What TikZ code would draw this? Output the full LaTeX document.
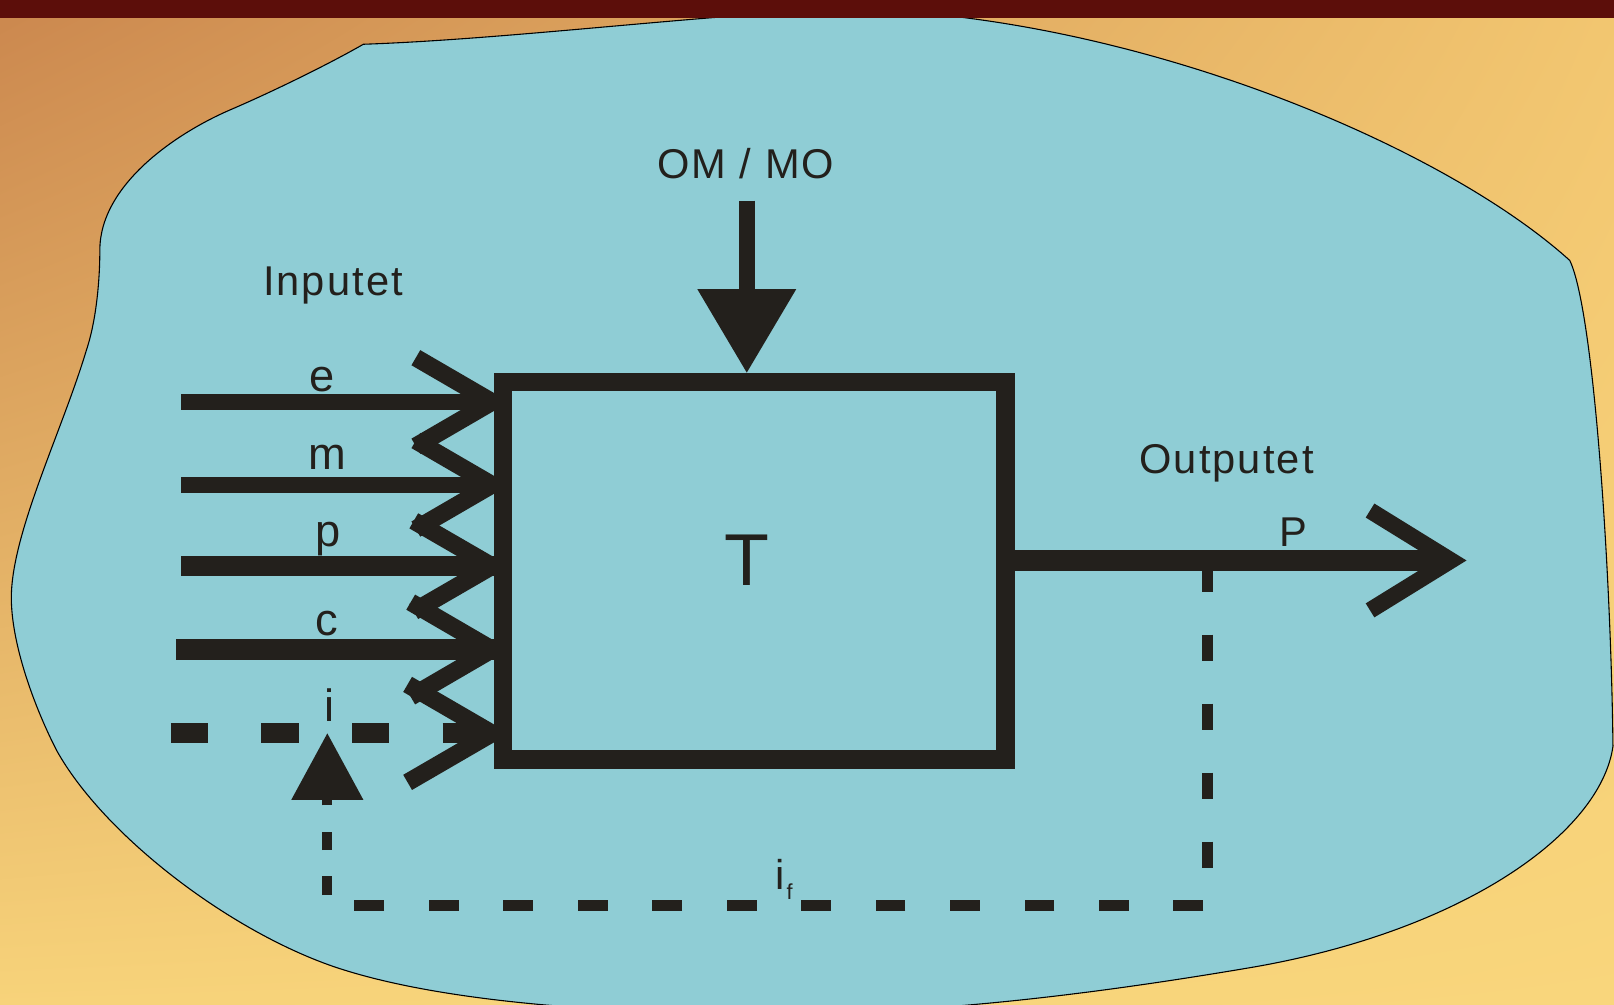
\documentclass[tikz,border=0pt]{standalone}
\usepackage{fontspec}
\setmainfont{Liberation Sans}
\newfontfamily\labfont[LetterSpace=5]{Liberation Sans}
\usetikzlibrary{calc,shadings}
\definecolor{ink}{RGB}{35,32,28}
\definecolor{blobc}{RGB}{143,205,213}
\definecolor{barc}{RGB}{92,14,10}
\definecolor{bgUL}{RGB}{203,135,78}
\definecolor{bgUR}{RGB}{242,198,112}
\definecolor{bgLL}{RGB}{247,211,122}
\definecolor{bgLR}{RGB}{249,214,124}
\begin{document}
\begin{tikzpicture}[x=0.01cm,y=-0.01cm,
  lbl/.style={font=\labfont\fontsize{11.5}{13}\selectfont, text=ink, inner sep=0pt, anchor=base},
  lblsm/.style={font=\labfont\fontsize{12.5}{14}\selectfont, text=ink, inner sep=0pt, anchor=base},
  inthin/.style={draw=ink, line width=4.41pt},
  inthick/.style={draw=ink, line width=5.69pt},
  headstroke/.style={draw=ink, line width=4.84pt, line join=miter, miter limit=10},
  dashI/.style={draw=ink, line width=5.55pt, dash pattern=on 10.24pt off 14.79pt},
  fbright/.style={draw=ink, line width=2.99pt, dash pattern=on 7.40pt off 11.66pt, dash phase=17.64pt},
  fbbottom/.style={draw=ink, line width=3.13pt, dash pattern=on 8.25pt off 12.32pt, dash phase=19.43pt},
  fbleft/.style={draw=ink, line width=2.85pt, dash pattern=on 5.12pt off 7.25pt, dash phase=9.53pt},
  boxstyle/.style={draw=ink, line width=5.12pt, minimum width=4.875cm, minimum height=3.67cm, inner sep=0pt, outer sep=0pt},
  outline/.style={draw=ink, line width=5.83pt},
  outhead/.style={draw=ink, line width=4.55pt, line join=miter, miter limit=10},
  omline/.style={draw=ink, line width=4.41pt}
]
\useasboundingbox (0,0) rectangle (1568,976);
% background
\shade[upper left=bgUL, upper right=bgUR, lower left=bgLL, lower right=bgLR] (0,0) rectangle (1568,976);
% blob
\draw[draw=black, line width=0.3pt, fill=blobc]
  (353,43) .. controls (500,38) and (700,12) .. (830,9)
  .. controls (1100,15) and (1400,140) .. (1525,253)
  .. controls (1548,300) and (1565,550) .. (1567,725)
  .. controls (1555,810) and (1420,905) .. (1215,940)
  .. controls (1050,968) and (900,985) .. (750,985)
  .. controls (600,985) and (430,975) .. (324,939)
  .. controls (220,903) and (100,810) .. (55,729)
  .. controls (35,690) and (12,630) .. (11,583)
  .. controls (10,520) and (60,420) .. (84,340)
  .. controls (94,310) and (97,270) .. (97,243)
  .. controls (97,180) and (170,130) .. (223,107)
  .. controls (265,89) and (320,62) .. (353,43) -- cycle;
% top bar
\fill[barc] (0,0) rectangle (1568,17.5);

% process box
\node[boxstyle] (box) at (732.75,554.5) {};
\node[font=\fontsize{20.3}{24}\selectfont, text=ink, inner sep=0pt, anchor=base] (lblT) at (725.5,569) {T};

% OM / MO
\node[lbl] (lblOM) at (724.5,173) {OM / MO};
\coordinate (omTop) at (725.5,195);
\coordinate (omBase) at (725.5,282);
\coordinate (omTip) at (725.5,362);
\draw[omline] (omTop) -- (omBase);
\fill[ink] ($(omBase)+(-48,-1)$) -- ($(omBase)+(48,-1)$) -- (omTip) -- cycle;

% inputs
\node[lbl] (lblIn) at (323.5,286.6) {Inputet};
\coordinate (inE) at (176,390.5);
\coordinate (inM) at (176,471);
\coordinate (inP) at (176,550);
\coordinate (inC) at (171,631);
\coordinate (inI) at (166,712.5);
\coordinate (tE) at (478,390.5);
\coordinate (tM) at (478,471);
\coordinate (tP) at (478,550);
\coordinate (tC) at (478,631);
\coordinate (tI) at (478,712.5);
\draw[inthin] (inE) -- (inE -| box.west);
\draw[inthin] (inM) -- (inM -| box.west);
\draw[inthick] (inP) -- (inP -| box.west);
\draw[inthick] (inC) -- (inC -| box.west);
\draw[dashI] (inI) -- (tI);
\draw[headstroke] ($(tE)+(-74,-43)$) -- (tE) -- ($(tE)+(-74,43)$);
\draw[headstroke] ($(tM)+(-74,-43)$) -- (tM) -- ($(tM)+(-74,43)$);
\draw[headstroke] ($(tP)+(-76,-44)$) -- (tP) -- ($(tP)+(-76,44)$);
\draw[headstroke] ($(tC)+(-79,-46)$) -- (tC) -- ($(tC)+(-79,46)$);
\draw[headstroke] ($(tI)+(-82,-47.6)$) -- (tI) -- ($(tI)+(-82,47.6)$);
\node[lblsm] (lble) at (313,380) {e};
\node[lblsm] (lblm) at (318.5,455.7) {m};
\node[lblsm] (lblp) at (319,531) {p};
\node[lblsm] (lblc) at (317.3,617) {c};
\node[lblsm] (lbli) at (320.6,701) {i};

% output
\node[lbl] (lblOut) at (1191.5,459.8) {Outputet};
\node[lbl] (lblP) at (1257,531) {P};
\coordinate (outTip) at (1409.5,544.5);
\draw[outline] (box.east |- outTip) -- ($(outTip)+(-4,0)$);
\draw[outhead] ($(outTip)+(-78.5,-48.5)$) -- (outTip) -- ($(outTip)+(-78.5,48.5)$);

% feedback
\coordinate (fbA) at (1173,544.5);
\coordinate (fbB) at (1173,879.5);
\coordinate (fbC) at (318,879.5);
\coordinate (fbD) at (318,777);
\coordinate (fbTip) at (318,712.5);
\draw[fbright] (fbA) -- (fbB);
\draw[fbbottom] (fbB) -- (fbC);
\draw[fbleft] (fbC) -- (fbD);
\fill[ink] ($(fbD)+(-35,0)$) -- ($(fbD)+(35,0)$) -- (fbTip) -- cycle;
\node[lbl, anchor=base west] (lblIf) at (753,863.7) {i\kern0.4pt\raisebox{-2.85pt}{\fontsize{6}{7}\selectfont f}};
\end{tikzpicture}
\end{document}
